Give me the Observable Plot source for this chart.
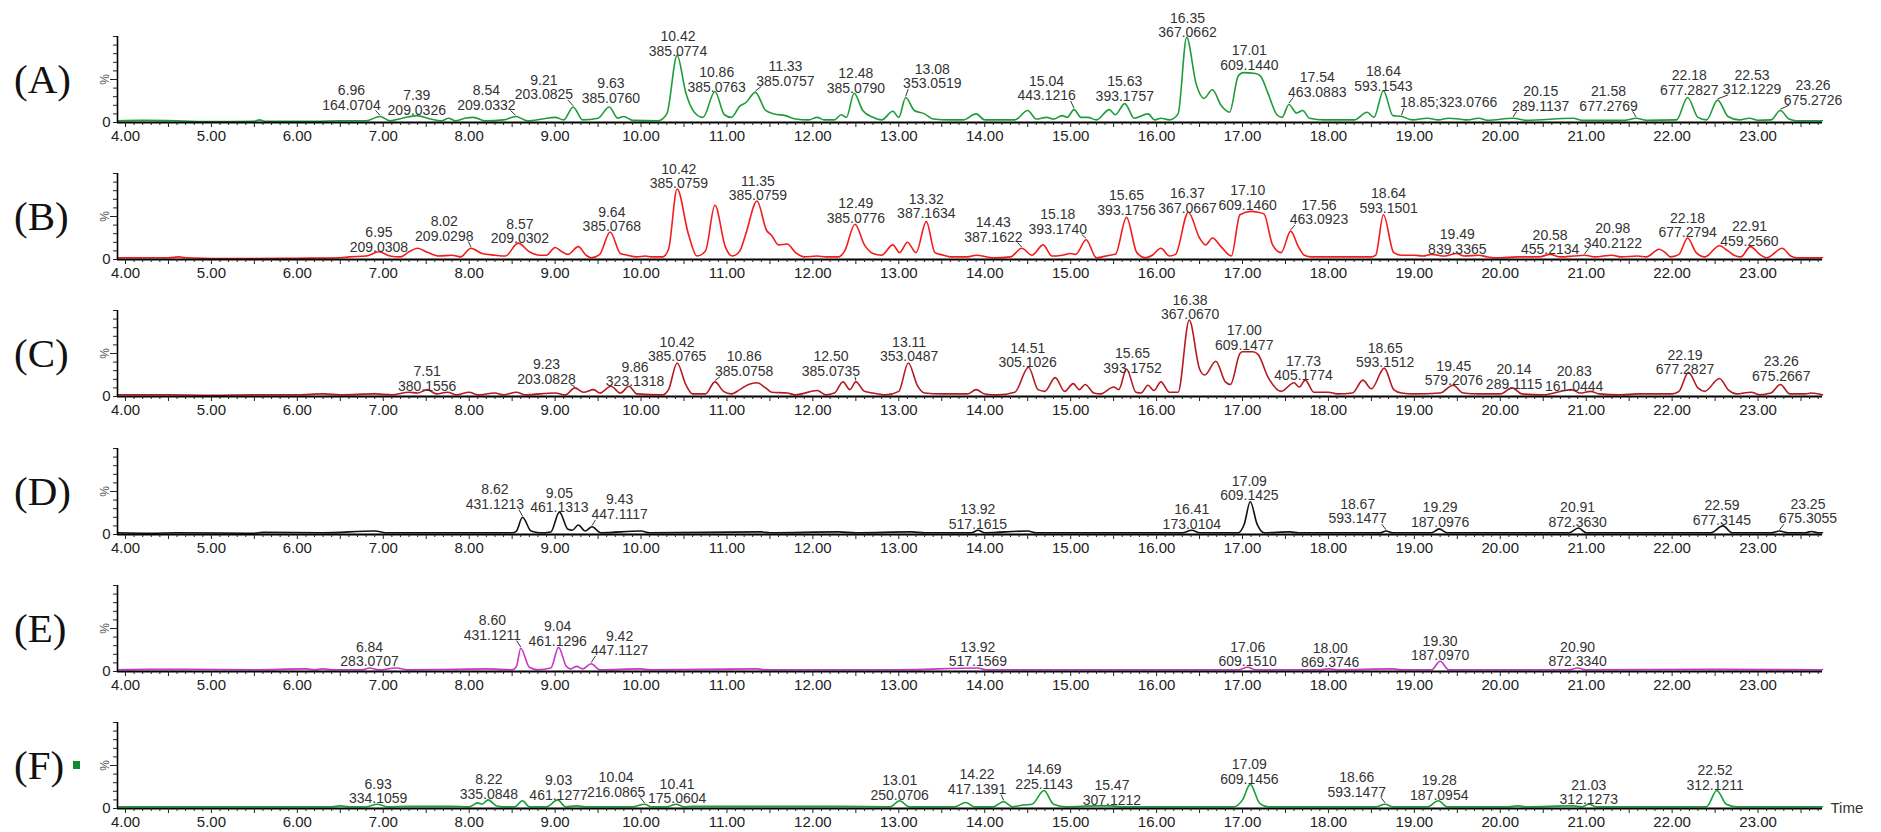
<!DOCTYPE html>
<html>
<head>
<meta charset="utf-8">
<script src="https://cdn.jsdelivr.net/npm/d3@7"></script>
<script src="https://cdn.jsdelivr.net/npm/@observablehq/plot@0.6"></script>
<style>
  body { margin: 0; background: #fff; }
  #chart { position: relative; width: 1881px; height: 832px; overflow: hidden; background: #fff; }
  .panel { position: absolute; left: 0; }
  .panel svg { overflow: visible; }
  .tag { position: absolute; left: 14px; font-family: "Liberation Serif", "Times New Roman", serif;
         font-size: 41px; line-height: 1; color: #111; transform: translateY(-50%); }
  .marker { position: absolute; width: 7px; height: 8px; background: #13882c; }
</style>
</head>
<body>
<div id="chart"></div>
<script>
// Total ion chromatograms, retention time (min) vs relative intensity (%)
const traceA = [[3.91,2],[4.2,2.5],[4.6,2],[5.0,1],[5.5,1.5],[5.56,3],[5.62,1.5],[6.2,1.5],[6.5,2],[6.8,2],[6.96,7],[7.08,2],[7.22,5],[7.39,8],[7.55,4],[7.68,2],[7.76,5],[7.84,2],[7.95,5],[8.05,6],[8.18,2],[8.4,3],[8.54,7],[8.68,2],[8.85,4],[9.0,6],[9.1,3],[9.21,18],[9.32,3],[9.5,5],[9.63,18],[9.73,5],[9.8,7],[9.9,2.5],[10.2,2],[10.3,10],[10.42,78],[10.52,35],[10.62,12],[10.72,6],[10.86,36],[10.97,9],[11.05,6],[11.15,19],[11.22,23],[11.33,35],[11.45,14],[11.55,10],[11.68,8],[11.8,4],[11.95,3],[12.05,6],[12.13,3],[12.25,3],[12.33,9],[12.39,6],[12.48,34],[12.58,14],[12.7,6],[12.8,3],[12.93,13],[13.0,6],[13.08,29],[13.18,14],[13.3,10],[13.4,4],[13.6,3],[13.75,3],[13.9,10],[14.0,3],[14.35,3],[14.5,14],[14.6,4],[14.72,6],[14.8,4],[14.9,8],[14.96,6],[15.04,15],[15.12,6],[15.2,6],[15.3,3],[15.45,15],[15.52,9],[15.63,22],[15.74,5],[15.9,10],[15.98,3],[16.05,5],[16.15,3],[16.25,10],[16.35,99],[16.46,45],[16.55,28],[16.65,38],[16.75,20],[16.85,12],[16.95,54],[17.01,58],[17.15,57],[17.21,54],[17.3,33],[17.4,9],[17.46,6],[17.54,21],[17.63,11],[17.7,14],[17.78,5],[17.95,3],[18.3,3],[18.45,12],[18.53,6],[18.64,37],[18.75,8],[18.85,7],[18.98,3],[19.15,5],[19.28,3],[19.4,5],[19.52,4],[19.62,3],[19.75,5],[19.85,2.5],[20.15,5],[20.3,2.5],[20.85,5],[20.95,2.5],[21.45,2.5],[21.58,5],[21.7,2.5],[22.05,3],[22.18,29],[22.3,6],[22.4,3],[22.53,26],[22.65,7],[22.78,3],[22.9,5],[23.0,2.5],[23.15,3],[23.26,14],[23.36,4],[23.45,2],[23.75,2]];
const traceB = [[3.91,2],[4.5,2],[4.62,3],[4.7,2],[5.3,1],[6.0,1.5],[6.5,2],[6.6,3],[6.8,4],[6.95,9],[7.08,4],[7.2,3],[7.3,9],[7.4,13],[7.52,8],[7.65,4],[7.8,5],[7.9,3],[8.02,13],[8.15,7],[8.3,5],[8.42,4],[8.57,19],[8.7,9],[8.82,5],[8.9,5],[9.0,14],[9.08,9],[9.15,6],[9.27,15],[9.36,5],[9.42,2],[9.52,6],[9.64,32],[9.76,7],[9.84,5],[9.95,3],[10.05,4],[10.12,3],[10.25,3],[10.32,12],[10.42,82],[10.55,30],[10.65,4],[10.75,10],[10.86,63],[10.98,15],[11.06,4],[11.15,10],[11.22,30],[11.35,68],[11.46,34],[11.52,28],[11.6,17],[11.7,18],[11.8,8],[11.9,3],[12.05,4],[12.15,3],[12.3,3],[12.37,10],[12.49,41],[12.6,17],[12.7,7],[12.8,5],[12.93,17],[13.01,8],[13.1,20],[13.2,8],[13.32,44],[13.42,8],[13.52,5],[13.6,3],[13.8,3],[13.9,5],[14.1,2],[14.3,3],[14.43,13],[14.55,5],[14.68,17],[14.78,4],[14.9,5],[15.0,7],[15.06,6],[15.18,23],[15.3,2],[15.45,5],[15.52,6],[15.65,49],[15.77,8],[15.87,2],[15.95,5],[16.05,13],[16.15,4],[16.22,6],[16.37,55],[16.5,25],[16.57,17],[16.65,25],[16.75,15],[16.87,4],[16.97,52],[17.1,56],[17.18,55],[17.25,53],[17.35,17],[17.45,8],[17.56,33],[17.65,15],[17.72,5],[17.8,3],[18.5,3],[18.55,5],[18.64,52],[18.76,8],[18.85,5],[19.0,5],[19.1,4],[19.2,6],[19.35,4],[19.49,7],[19.58,4],[19.75,5],[19.85,3],[20.0,2],[20.2,3],[20.45,3],[20.58,6],[20.7,3],[20.85,4],[20.98,5],[21.1,3],[21.3,5],[21.4,3],[21.6,4],[21.7,3],[21.85,12],[21.92,8],[21.98,3],[22.08,6],[22.18,25],[22.28,8],[22.38,3],[22.55,16],[22.65,10],[22.72,5],[22.8,3],[22.91,15],[23.02,6],[23.1,2],[23.28,13],[23.38,4],[23.45,2],[23.75,2]];
const traceC = [[3.91,2],[4.5,2],[5.0,1.5],[5.5,2],[6.0,2],[6.3,3],[6.5,2],[6.9,3],[7.1,2],[7.3,5],[7.4,4],[7.51,8],[7.62,3],[7.75,5],[7.85,2],[8.0,5],[8.1,2],[8.3,4],[8.4,2],[8.55,5],[8.65,2],[9.0,4],[9.12,2],[9.23,10],[9.33,5],[9.45,8],[9.52,4],[9.65,12],[9.76,4],[9.86,12],[9.95,3],[10.25,2],[10.32,8],[10.42,39],[10.52,14],[10.6,3],[10.75,3],[10.86,17],[10.96,6],[11.05,3],[11.15,8],[11.25,14],[11.35,16],[11.45,10],[11.52,5],[11.7,4],[11.8,2],[12.05,7],[12.15,2],[12.25,4],[12.35,17],[12.43,8],[12.5,17],[12.6,6],[12.7,4],[12.85,2],[13.0,6],[13.11,39],[13.22,12],[13.3,4],[13.5,3],[13.65,3],[13.8,3],[13.9,8],[14.0,3],[14.15,2],[14.35,5],[14.51,34],[14.62,8],[14.7,6],[14.82,22],[14.93,6],[15.03,15],[15.1,8],[15.17,14],[15.27,4],[15.35,3],[15.5,11],[15.56,8],[15.65,32],[15.76,5],[15.82,4],[15.9,13],[15.97,7],[16.05,17],[16.15,5],[16.25,5],[16.38,89],[16.5,32],[16.56,25],[16.69,41],[16.8,17],[16.86,14],[16.97,50],[17.0,52],[17.12,52],[17.18,49],[17.3,22],[17.45,6],[17.6,16],[17.66,11],[17.73,19],[17.83,5],[18.0,5],[18.1,3],[18.28,4],[18.4,19],[18.5,9],[18.65,33],[18.76,8],[18.85,4],[19.0,3],[19.3,4],[19.45,13],[19.57,4],[19.75,3],[20.0,3],[20.14,10],[20.25,3],[20.5,2],[20.75,7],[20.83,8],[20.93,4],[21.05,6],[21.15,3],[21.4,2],[21.6,3],[22.0,3],[22.08,6],[22.19,28],[22.3,10],[22.38,6],[22.55,21],[22.66,7],[22.75,3],[22.92,5],[23.02,2],[23.15,4],[23.26,14],[23.37,3],[23.55,3],[23.62,4],[23.75,2]];
const traceD = [[3.91,2],[4.3,1.5],[4.6,2],[5.5,1.5],[5.6,2.5],[6.3,2],[6.9,4],[7.05,2],[7.8,2],[8.5,2],[8.55,4],[8.62,20],[8.72,4],[8.82,2],[8.95,3],[9.05,26],[9.15,6],[9.2,5],[9.27,11],[9.35,4],[9.43,9],[9.53,2],[10.0,4],[10.1,2],[11.4,3],[11.5,2],[12.3,3],[12.5,2],[13.15,3],[13.3,2],[13.85,2],[13.92,5],[14.0,2],[14.5,4],[14.6,2],[16.3,2],[16.41,5],[16.5,2],[16.95,2],[17.02,12],[17.09,38],[17.17,12],[17.25,2],[17.55,3],[17.65,2],[18.6,2],[18.67,4],[18.75,2],[19.2,2],[19.29,6.5],[19.38,2],[20.8,2],[20.91,7.5],[21.0,2],[22.45,2],[22.59,10],[22.7,2],[23.15,2],[23.25,4],[23.35,2],[23.55,2],[23.62,3.5],[23.7,2],[23.75,2]];
const traceE = [[3.91,2],[4.3,2.5],[4.7,2.5],[5.5,2],[6.1,3],[6.2,2],[6.3,3],[6.4,2],[6.75,2],[6.84,4],[6.95,2],[7.15,4],[7.3,2],[7.85,2.5],[8.2,3],[8.5,2],[8.55,6],[8.6,27],[8.7,5],[8.8,2],[8.95,4],[9.04,28],[9.13,6],[9.18,3],[9.25,6],[9.32,3],[9.42,9],[9.52,2],[10.0,3],[10.1,2],[11.35,3],[11.45,2],[13.0,2],[13.92,4],[14.02,2],[15.5,2],[16.95,2],[17.06,5],[17.15,2],[17.9,2],[18.0,3],[18.1,2],[18.75,3],[18.85,2],[19.2,2],[19.3,12],[19.4,2],[20.8,2],[20.9,4],[21.0,2],[22.5,2.5],[23.75,2]];
const traceF = [[3.91,2],[4.5,2],[5.0,2],[6.4,2],[6.5,3],[6.6,2],[6.8,2],[6.93,5],[7.05,2],[7.3,2.5],[7.8,2.5],[8.0,2],[8.1,6.5],[8.15,5],[8.22,10],[8.32,3],[8.45,2],[8.53,2],[8.62,9],[8.7,2],[8.9,2],[9.03,10],[9.12,2],[9.25,3],[9.35,2],[9.9,2],[10.04,5],[10.12,2],[10.3,2],[10.41,5],[10.5,2],[10.6,2.5],[12.3,2.5],[12.9,2],[13.01,9],[13.12,2],[13.65,2],[13.78,7],[13.88,2],[14.1,2],[14.22,8],[14.32,2],[14.45,4],[14.55,5],[14.69,21],[14.8,5],[14.95,2],[15.3,3],[15.47,3],[15.6,2],[16.9,2],[17.0,10],[17.09,28],[17.2,6],[17.3,2],[18.55,2],[18.66,5],[18.75,2],[19.15,2],[19.28,9],[19.38,2],[20.1,2],[20.2,3],[20.3,2],[20.85,3],[20.95,2],[21.03,5],[21.12,2],[22.4,2],[22.52,21],[22.63,5],[22.75,2],[23.75,2]];

// Peak annotations: [retention time, m/z, label time, label level (%), single-line]
const notesA = [[6.96,"164.0704",6.63,23],[7.39,"209.0326",7.39,17],[8.54,"209.0332",8.2,23],[9.21,"203.0825",8.87,35],[9.63,"385.0760",9.65,31],[10.42,"385.0774",10.43,86],[10.86,"385.0763",10.88,44],[11.33,"385.0757",11.68,51],[12.48,"385.0790",12.5,43],[13.08,"353.0519",13.39,48],[15.04,"443.1216",14.72,34],[15.63,"393.1757",15.63,33],[16.35,"367.0662",16.36,107],[17.01,"609.1440",17.08,69],[17.54,"463.0883",17.87,38],[18.64,"593.1543",18.64,45],[18.85,"323.0766",19.4,26,true],[20.15,"289.1137",20.47,22],[21.58,"677.2769",21.26,22],[22.18,"677.2827",22.2,40],[22.53,"312.1229",22.93,41],[23.26,"675.2726",23.64,29]];
const notesB = [[6.95,"209.0308",6.95,17],[8.02,"209.0298",7.71,30],[8.57,"209.0302",8.59,27],[9.64,"385.0768",9.66,41],[10.42,"385.0759",10.44,91],[11.35,"385.0759",11.36,77],[12.49,"385.0776",12.5,51],[13.32,"387.1634",13.32,56],[14.43,"387.1622",14.1,29],[15.18,"393.1740",14.85,38],[15.65,"393.1756",15.65,60],[16.37,"367.0667",16.36,62],[17.10,"609.1460",17.06,66],[17.56,"463.0923",17.89,49],[18.64,"593.1501",18.7,62],[19.49,"839.3365",19.5,15],[20.58,"455.2134",20.58,14],[20.98,"340.2122",21.31,22],[22.18,"677.2794",22.18,34],[22.91,"459.2560",22.9,24]];
const notesC = [[7.51,"380.1556",7.51,15],[9.23,"203.0828",8.9,23],[9.86,"323.1318",9.93,20],[10.42,"385.0765",10.42,49],[10.86,"385.0758",11.2,32],[12.50,"385.0735",12.21,32],[13.11,"353.0487",13.12,49],[14.51,"305.1026",14.5,42],[15.65,"393.1752",15.72,36],[16.38,"367.0670",16.39,98],[17.00,"609.1477",17.02,62],[17.73,"405.1774",17.71,27],[18.65,"593.1512",18.66,42],[19.45,"579.2076",19.46,21],[20.14,"289.1115",20.16,17],[20.83,"161.0444",20.86,15],[22.19,"677.2827",22.15,34],[23.26,"675.2667",23.27,26]];
const notesD = [[8.62,"431.1213",8.3,38],[9.05,"461.1313",9.05,34],[9.43,"447.1117",9.75,26],[13.92,"517.1615",13.92,15],[16.41,"173.0104",16.41,15],[17.09,"609.1425",17.08,48],[18.67,"593.1477",18.34,21],[19.29,"187.0976",19.3,17],[20.91,"872.3630",20.9,17],[22.59,"677.3145",22.58,19],[23.25,"675.3055",23.58,21]];
const notesE = [[6.84,"283.0707",6.84,14],[8.60,"431.1211",8.27,45],[9.04,"461.1296",9.03,38],[9.42,"447.1127",9.75,27],[13.92,"517.1569",13.92,14],[17.06,"609.1510",17.06,14],[18.00,"869.3746",18.02,13],[19.30,"187.0970",19.3,21],[20.90,"872.3340",20.9,14]];
const notesF = [[6.93,"334.1059",6.94,14],[8.22,"335.0848",8.23,19],[9.03,"461.1277",9.04,18],[10.04,"216.0865",9.71,22],[10.41,"175.0604",10.42,14],[13.01,"250.0706",13.01,18],[14.22,"417.1391",13.91,25],[14.69,"225.1143",14.69,31],[15.47,"307.1212",15.48,12],[17.09,"609.1456",17.08,37],[18.66,"593.1477",18.33,22],[19.28,"187.0954",19.29,18],[21.03,"312.1273",21.03,13],[22.52,"312.1211",22.5,30]];

const panelNames = ["(A)", "(B)", "(C)", "(D)", "(E)", "(F)"];
const traces = [traceA, traceB, traceC, traceD, traceE, traceF];
const notes = [notesA, notesB, notesC, notesD, notesE, notesF];
const colors = ["#1f9c3a", "#f21c1c", "#b51a22", "#111111", "#c935c9", "#16a032"];

const X0 = 3.907, X1 = 23.75;
const STEP = 137.2;
const textFont = "'Liberation Sans', Arial, sans-serif";
const labelTicks = d3.range(4, 24);
const halfTicks = d3.range(4.5, 23.6, 1);
const minorTicks = d3.range(40, 238).filter(i => i % 5 !== 0).map(i => i / 10);

const chart = document.getElementById("chart");

traces.forEach((trace, i) => {
  const peakAt = t => trace.find(d => Math.abs(d[0] - t) < 1e-6)[1];
  const ann = notes[i].map(([t, mz, lt, lh, single]) => ({t, mz, lt, lh, single: !!single, h: peakAt(t)}));
  const leaders = ann.filter(d => Math.abs(d.lt - d.t) > 0.12);
  const isLast = i === traces.length - 1;

  const svg = Plot.plot({
    width: 1881,
    height: 137,
    marginTop: 36,
    marginBottom: 15,
    marginLeft: 117,
    marginRight: 59,
    x: {domain: [X0, X1], axis: null, label: null},
    y: {domain: [0, 100], axis: null, label: null},
    style: {fontFamily: textFont, background: "transparent", overflow: "visible", color: "#222"},
    marks: [
      Plot.line(trace, {x: d => d[0], y: d => d[1], stroke: colors[i], strokeWidth: 1.6, curve: "monotone-x"}),
      // axis frame
      Plot.ruleY([0], {stroke: "#000", strokeWidth: 2.2}),
      Plot.ruleX([X0], {y1: 0, y2: 100, stroke: "#000", strokeWidth: 1.6}),
      Plot.axisY({ticks: d3.range(0, 101, 10), tickSize: 4, tickPadding: 3, fontSize: 15, label: null,
                  tickFormat: d => d === 0 ? "0" : "", color: "#222"}),
      Plot.axisY({ticks: [50], tickSize: 7, tickFormat: () => "", label: null, color: "#222"}),
      Plot.text(["%"], {x: () => X0, y: () => 50, text: d => d, dx: -12, rotate: -90,
                        fontSize: 12, fill: "#555"}),
      Plot.axisX({ticks: minorTicks, tickSize: 3, tickFormat: () => "", label: null, color: "#222"}),
      Plot.axisX({ticks: halfTicks, tickSize: 5, tickFormat: () => "", label: null, color: "#222"}),
      Plot.axisX({ticks: labelTicks, tickSize: 5, tickPadding: 3, tickFormat: d3.format(".2f"),
                  fontSize: 15, label: null, color: "#222"}),
      // peak annotations
      Plot.link(leaders, {
        x1: d => d.lt + (d.t < d.lt ? -1 : 1) * (d.single ? 0.52 : 0.28),
        y1: d => d.lh - 9,
        x2: "t",
        y2: d => d.h + 1.5,
        stroke: "#333", strokeWidth: 1
      }),
      Plot.text(ann, {
        x: "lt", y: "lh",
        text: d => d.single ? `${d.t.toFixed(2)};${d.mz}` : `${d.t.toFixed(2)}\n${d.mz}`,
        lineAnchor: "bottom", dy: 7, lineHeight: 1.05,
        fontSize: 14, fill: "#333"
      }),
      ...(isLast ? [Plot.text(["Time"], {x: () => X1, y: () => 0, text: d => d, dx: 8,
                                          textAnchor: "start", fontSize: 15, fill: "#333"})] : [])
    ]
  });

  const wrap = document.createElement("div");
  wrap.className = "panel";
  wrap.style.top = `${(i * STEP).toFixed(1)}px`;
  wrap.appendChild(svg);
  chart.appendChild(wrap);

  const tag = document.createElement("div");
  tag.className = "tag";
  tag.textContent = panelNames[i];
  tag.style.top = `${(i * STEP + 79).toFixed(1)}px`;
  chart.appendChild(tag);
});

// small legend swatch beside the last panel name
const marker = document.createElement("div");
marker.className = "marker";
marker.style.left = "73px";
marker.style.top = "761px";
chart.appendChild(marker);
</script>
</body>
</html>
